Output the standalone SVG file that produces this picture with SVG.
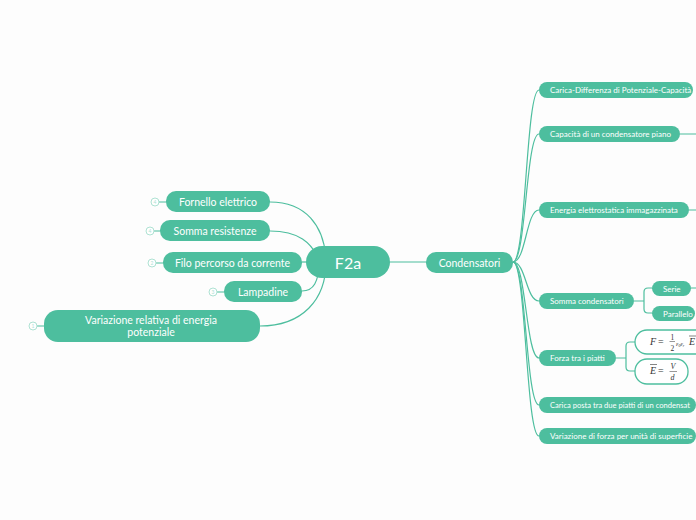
<svg xmlns="http://www.w3.org/2000/svg" width="696" height="520" viewBox="0 0 696 520">
<style>
.n{fill:#4dbe9e}
.t{fill:#fff;font-family:Lato,"Liberation Sans",sans-serif;text-anchor:middle;dominant-baseline:central}
.l{font-size:10.5px}
.s{font-size:8px;text-anchor:start}
.c{fill:none;stroke:#4dbe9e;stroke-width:1.2}
.b{fill:#fff;stroke:#aee2d3;stroke-width:1}
.bn{fill:#aee2d3;font-family:Lato,"Liberation Sans",sans-serif;font-size:5px;text-anchor:middle;dominant-baseline:central}
.m{fill:#333;font-family:"Liberation Serif",serif;font-style:italic}
.u{fill:#333;font-family:"Liberation Serif",serif;font-style:normal}
.f{fill:#fff;stroke:#4dbe9e;stroke-width:1.3}
</style>
<rect width="696" height="520" fill="#fdfdfd"/>
<g id="connectors">
<path class="c" d="M270,202 C305,202 325,225 326,262"/>
<path class="c" d="M270,231 C298,231 312,242 320,262"/>
<path class="c" d="M302,262 L330,262"/>
<path class="c" d="M302,291 C314,291 318,282 320,262"/>
<path class="c" d="M260,326 C302,326 326,300 326,262"/>
<path class="c" d="M159,202 L166,202 M154,231 L160,231 M156,263 L163,263 M217,292 L224,292 M37,326 L44,326"/>
<path class="c" d="M390,262 L426,262"/>
<path class="c" d="M513,262 C526,262 526,90 539,90"/>
<path class="c" d="M513,262 C526,262 526,134 539,134"/>
<path class="c" d="M513,262 C526,262 526,210 539,210"/>
<path class="c" d="M513,262 C526,262 526,301 539,301"/>
<path class="c" d="M513,262 C526,262 526,358 539,358"/>
<path class="c" d="M513,262 C526,262 526,405 539,405"/>
<path class="c" d="M513,262 C526,262 526,436 539,436"/>
<path class="c" d="M680,134 L696,134 M689,210 L696,210 M691,288 L696,288"/>
<path class="c" d="M634,301 L644,301 M652,288 L648,288 Q644,288 644,292 L644,309 Q644,313 648,313 L652,313"/>
<path class="c" d="M616,358 L626,358 M635,342 L630,342 Q626,342 626,346 L626,367 Q626,371 630,371 L635,371"/>
</g>
<g id="center"><rect class="n" x="306" y="246" width="84" height="32" rx="16"/><text class="t" x="348" y="262" font-size="16">F2a</text></g>
<g id="fornello"><rect class="n" x="166" y="191" width="104" height="21" rx="10"/><text class="t l" x="218" y="201.5">Fornello elettrico</text><circle class="b" cx="155" cy="202" r="4"/><text class="bn" x="155" y="202">4</text></g>
<g id="somma-res"><rect class="n" x="160" y="220" width="110" height="21" rx="10"/><text class="t l" x="215" y="230.5">Somma resistenze</text><circle class="b" cx="150" cy="231" r="4"/><text class="bn" x="150" y="231">4</text></g>
<g id="filo"><rect class="n" x="163" y="252" width="139" height="21" rx="10"/><text class="t l" x="232.5" y="262.5">Filo percorso da corrente</text><circle class="b" cx="152" cy="263" r="4"/><text class="bn" x="152" y="263">2</text></g>
<g id="lampadine"><rect class="n" x="224" y="281" width="78" height="21" rx="10"/><text class="t l" x="263" y="291.5">Lampadine</text><circle class="b" cx="213" cy="292" r="4"/><text class="bn" x="213" y="292">3</text></g>
<g id="variazione-energia"><rect class="n" x="44" y="310" width="216" height="32" rx="14"/><text class="t l" x="151" y="320">Variazione relativa di energia</text><text class="t l" x="151" y="332">potenziale</text><circle class="b" cx="33" cy="326" r="4"/><text class="bn" x="33" y="326">1</text></g>
<g id="condensatori"><rect class="n" x="426" y="252" width="87" height="21" rx="10"/><text class="t l" x="469.5" y="262.5">Condensatori</text></g>
<g id="carica-diff"><rect class="n" x="539" y="82" width="154" height="16" rx="8"/><text class="t s" x="550" y="90">Carica-Differenza di Potenziale-Capacità</text></g>
<g id="capacita"><rect class="n" x="539" y="126" width="141" height="16" rx="8"/><text class="t s" x="550" y="134">Capacità di un condensatore piano</text></g>
<g id="energia"><rect class="n" x="539" y="202" width="150" height="16" rx="8"/><text class="t s" x="550" y="210">Energia elettrostatica immagazzinata</text></g>
<g id="somma-cond"><rect class="n" x="539" y="293" width="95" height="16" rx="8"/><text class="t s" x="550" y="301">Somma condensatori</text></g>
<g id="serie"><rect class="n" x="652" y="281" width="39" height="15" rx="7.5"/><text class="t s" x="663" y="288.5">Serie</text></g>
<g id="parallelo"><rect class="n" x="652" y="306" width="43" height="15" rx="7.5"/><text class="t s" x="663" y="313.5">Parallelo</text></g>
<g id="forza"><rect class="n" x="539" y="350" width="77" height="16" rx="8"/><text class="t s" x="550" y="358">Forza tra i piatti</text></g>
<g id="formula-f"><rect class="f" x="635" y="330" width="80" height="24" rx="12"/>
<text class="m" x="650" y="345" font-size="10">F</text><text class="u" x="658" y="345" font-size="10">=</text>
<text class="u" x="670.5" y="340" font-size="7.5">1</text><line x1="669.5" y1="341.5" x2="675" y2="341.5" stroke="#333" stroke-width="0.5"/><text class="u" x="670.5" y="351" font-size="7.5">2</text>
<text class="m" x="676" y="346" font-size="6">ε<tspan font-size="4" dy="1">0</tspan><tspan dy="-1">ε</tspan><tspan font-size="4" dy="1">r</tspan></text>
<text class="m" x="689" y="345" font-size="10">E</text><line x1="689" y1="336" x2="697" y2="336" stroke="#333" stroke-width="0.6"/></g>
<g id="formula-e"><rect class="f" x="635" y="359" width="53" height="25" rx="12"/>
<text class="m" x="650" y="374" font-size="10">E</text><line x1="650" y1="364.5" x2="657" y2="364.5" stroke="#333" stroke-width="0.6"/>
<text class="u" x="658" y="374" font-size="10">=</text>
<text class="m" x="670.5" y="368.5" font-size="8">V</text><line x1="669.5" y1="371.5" x2="677" y2="371.5" stroke="#333" stroke-width="0.5"/><text class="m" x="670.5" y="380" font-size="8">d</text></g>
<g id="carica-posta"><rect class="n" x="539" y="397" width="157" height="16" rx="8"/><text class="t s" x="550" y="405" textLength="140" lengthAdjust="spacingAndGlyphs">Carica posta tra due piatti di un condensat</text></g>
<g id="variazione-forza"><rect class="n" x="539" y="428" width="157" height="16" rx="8"/><text class="t s" x="550" y="436">Variazione di forza per unità di superficie</text></g>
</svg>
